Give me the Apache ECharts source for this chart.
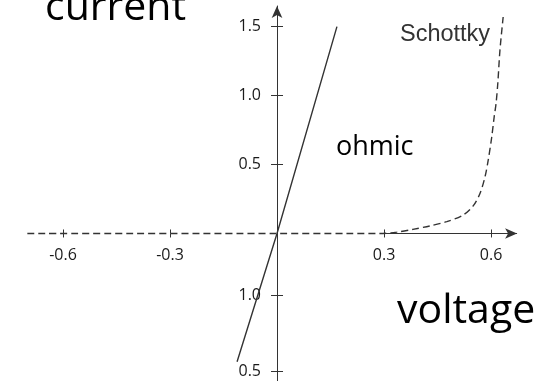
<!DOCTYPE html>
<html>
<head>
<meta charset="utf-8">
<script src="https://cdn.jsdelivr.net/npm/echarts@6/dist/echarts.min.js"></script>
<style>
  html, body { margin: 0; padding: 0; background: #fff; }
  #chart { width: 554px; height: 381px; }
</style>
</head>
<body>
<div id="chart"></div>
<script>
// I–V characteristics: a linear (ohmic) contact and a rectifying Schottky contact
const ohmicV = [-0.112, 0, 0.168];
const ohmicI = [-0.93, 0, 1.5];

const schottkyV = [-0.7, 0, 0.2, 0.289, 0.336, 0.381, 0.429, 0.476, 0.522, 0.55, 0.569, 0.583, 0.592, 0.602, 0.609, 0.614, 0.619, 0.625, 0.634];
const schottkyI = [0, 0, 0, 0, 0.01, 0.03, 0.055, 0.086, 0.134, 0.2, 0.29, 0.41, 0.53, 0.7, 0.85, 0.94, 1.09, 1.33, 1.57];

const xTickValues = [-0.6, -0.3, 0.3, 0.6];
const xTickLabels = ['-0.6', '-0.3', '0.3', '0.6'];
const yTickValues = [-1.0, -0.45, 0.5, 1.0, 1.5];
const yTickLabels = ['0.5', '1.0', '0.5', '1.0', '1.5'];

const pairs = (xs, ys) => xs.map((x, i) => [x, ys[i]]);
const labelFor = (values, labels) => (v) => {
  const i = values.findIndex(t => Math.abs(t - v) < 1e-6);
  return i >= 0 ? labels[i] : '';
};

const ink = '#333';
const tickFont = { fontFamily: 'Open Sans', fontSize: 16, color: '#1a1a1a' };

const W = 554, H = 381;
const gridBox = { left: 9.5, right: 27.3, top: 6, bottom: 0 };
const xMin = -0.75, xMax = 0.7, yMin = -1.07, yMax = 1.65;
// pixel position of the origin inside the grid, used to slide the labelled axes onto it
const zeroX = gridBox.left + (W - gridBox.left - gridBox.right) * (0 - xMin) / (xMax - xMin);
const zeroY = gridBox.top + (H - gridBox.top - gridBox.bottom) * (yMax - 0) / (yMax - yMin);

const chart = echarts.init(document.getElementById('chart'), null, { renderer: 'canvas' });

const xBase = { type: 'value', min: xMin, max: xMax, splitLine: { show: false } };
const yBase = { type: 'value', min: yMin, max: yMax, splitLine: { show: false } };

// two axes per direction meet at the origin so that tick marks cross the axis line
chart.setOption({
  animation: false,
  grid: Object.assign({ containLabel: false, outerBoundsMode: 'none' }, gridBox),
  xAxis: [
    Object.assign({}, xBase, {
      position: 'bottom',
      offset: -(H - gridBox.bottom - zeroY),
      axisLine: { show: false, onZero: false },
      axisTick: { show: true, inside: false, length: 4, customValues: xTickValues, lineStyle: { color: ink } },
      axisLabel: Object.assign({ show: true, margin: 14, customValues: xTickValues,
        formatter: labelFor(xTickValues, xTickLabels) }, tickFont)
    }),
    Object.assign({}, xBase, {
      position: 'bottom',
      axisLine: { show: false, onZero: true, onZeroAxisIndex: 1 },
      axisTick: { show: true, inside: true, length: 4, customValues: xTickValues, lineStyle: { color: ink } },
      axisLabel: { show: false }
    })
  ],
  yAxis: [
    Object.assign({}, yBase, {
      position: 'left',
      offset: -(zeroX - gridBox.left),
      axisLine: { show: false, onZero: false },
      axisTick: { show: true, inside: false, length: 6, customValues: yTickValues, lineStyle: { color: ink } },
      axisLabel: Object.assign({ show: true, margin: 16, customValues: yTickValues,
        formatter: labelFor(yTickValues, yTickLabels) }, tickFont)
    }),
    Object.assign({}, yBase, {
      position: 'left',
      axisLine: { show: true, onZero: true, onZeroAxisIndex: 1, symbol: ['none', 'arrow'], symbolSize: [8, 12],
        lineStyle: { color: ink, width: 1 } },
      axisTick: { show: true, inside: true, length: 6, customValues: yTickValues, lineStyle: { color: ink } },
      axisLabel: { show: false }
    })
  ],
  series: [
    {
      name: 'Schottky',
      type: 'line',
      data: pairs(schottkyV, schottkyI),
      smooth: 0.3,
      symbol: 'none',
      lineStyle: { color: ink, width: 1.4, type: [7, 4] },
      // positive voltage half of the horizontal axis, drawn solid with its arrow head
      markLine: {
        silent: true,
        symbol: ['none', 'arrow'],
        symbolSize: [8, 12],
        label: { show: false },
        lineStyle: { color: ink, width: 1, type: 'solid' },
        data: [[{ coord: [0.29, 0] }, { coord: [0.673, 0] }]]
      }
    },
    {
      name: 'ohmic',
      type: 'line',
      data: pairs(ohmicV, ohmicI),
      symbol: 'none',
      lineStyle: { color: ink, width: 1.4 }
    }
  ],
  graphic: [
    { type: 'text', left: 45, top: -12, style: { text: 'current', font: '41px "Open Sans"', fill: '#000' } },
    { type: 'text', left: 397, top: 291, style: { text: 'voltage', font: '41px "Open Sans"', fill: '#000' } },
    { type: 'text', left: 336, top: 134, style: { text: 'ohmic', font: '27px "Open Sans"', fill: '#000' } },
    { type: 'text', left: 400, top: 23, style: { text: 'Schottky', font: '23.5px "Liberation Sans"', fill: '#333' } }
  ]
});
</script>
</body>
</html>
